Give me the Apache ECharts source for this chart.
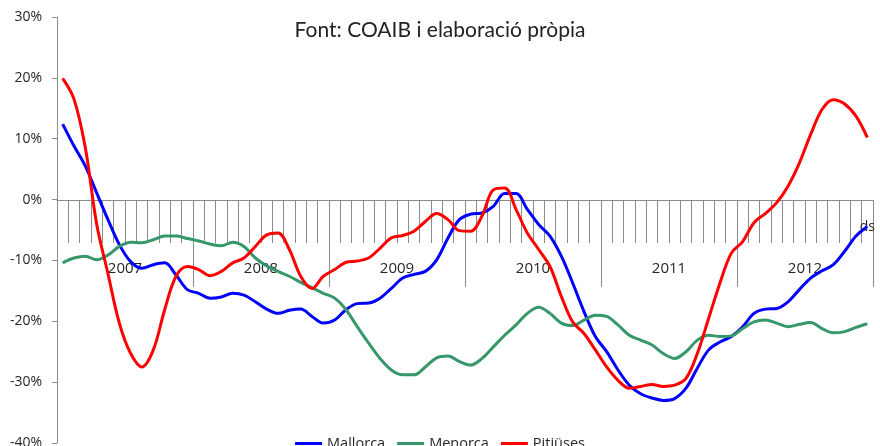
<!DOCTYPE html>
<html>
<head>
<meta charset="utf-8">
<script src="https://cdn.jsdelivr.net/npm/echarts@6/dist/echarts.min.js"></script>
<style>
  html, body { margin: 0; padding: 0; background: #fff; }
  #chart { width: 880px; height: 446px; }
</style>
</head>
<body>
<div id="chart"></div>
<script>
var monthNames = ["gn", "fb", "mç", "ab", "mg", "jn", "jl", "ag", "st", "oc", "nv", "ds"];
var years = ["2007", "2008", "2009", "2010", "2011", "2012"];

var mallorca = [
  12.4, 8.8, 5.5, 1.1, -3.3, -7.4, -10.2, -11.3, -10.7, -10.4, -12.4, -14.8,
  -15.4, -16.2, -16.0, -15.4, -15.7, -16.8, -18.0, -18.7, -18.2, -18.0, -19.2, -20.3,
  -19.8, -18.1, -17.1, -17.0, -16.2, -14.6, -12.9, -12.3, -11.8, -9.9, -6.3, -3.3,
  -2.4, -2.2, -1.1, 1.0, 1.0, -1.6, -4.1, -6.0, -9.3, -13.7, -18.4, -22.5,
  -25.0, -28.0, -30.5, -31.9, -32.6, -33.0, -32.7, -31.0, -27.7, -24.7, -23.4, -22.5,
  -20.9, -18.7, -18.0, -17.9, -16.8, -14.8, -12.9, -11.7, -10.7, -8.5, -6.0, -4.4
];
var menorca = [
  -10.4, -9.6, -9.3, -9.9, -9.1, -7.7, -7.0, -7.1, -6.6, -6.0, -6.0, -6.4,
  -6.8, -7.3, -7.6, -7.0, -7.7, -9.6, -10.9, -11.8, -12.6, -13.6, -14.5, -15.4,
  -16.2, -18.1, -20.9, -23.6, -26.1, -28.0, -28.8, -28.8, -27.5, -26.0, -25.7, -26.6,
  -27.2, -26.1, -24.2, -22.3, -20.6, -18.7, -17.7, -18.7, -20.3, -20.7, -19.8, -19.0,
  -19.2, -20.6, -22.3, -23.1, -23.9, -25.3, -26.1, -25.0, -23.1, -22.3, -22.5, -22.4,
  -21.2, -20.1, -19.8, -20.3, -20.9, -20.5, -20.2, -21.2, -21.9, -21.7, -21.0, -20.4
];
var pitiuses = [
  19.9, 16.5, 8.5, -4.0, -12.2, -20.3, -25.3, -27.5, -24.7, -18.1, -12.6, -11.0,
  -11.5, -12.5, -11.8, -10.4, -9.6, -7.7, -5.8, -5.5, -8.2, -12.6, -14.6, -12.6,
  -11.5, -10.3, -10.1, -9.6, -8.0, -6.3, -5.9, -5.2, -3.6, -2.3, -3.3, -5.1,
  -5.2, -2.7, 1.6, 1.9, -1.6, -5.5, -8.2, -11.0, -15.9, -20.1, -22.0, -24.7,
  -27.5, -29.7, -31.0, -30.7, -30.4, -30.7, -30.5, -29.4, -25.3, -19.5, -13.7, -8.8,
  -6.9, -3.8, -2.3, -0.5, 2.2, 6.0, 10.7, 14.8, 16.4, 15.7, 13.7, 10.2
];

// categories mensuals
var months = [];
years.forEach(function (y) {
  monthNames.forEach(function (m) {
    months.push(m);
  });
});

var axisGray = "#8c8c8c";
var textColor = "#262626";

var chart = echarts.init(document.getElementById("chart"));
var option = {
  animation: false,
  title: {
    text: "Font: COAIB i elaboració pròpia",
    left: "center",
    top: 15,
    textStyle: {
      fontFamily: "Lato",
      fontWeight: "normal",
      fontSize: 21,
      color: "#222",
    },
  },
  legend: {
    data: ["Mallorca", "Menorca", "Pitiüses"],
    left: "center",
    top: 431,
    icon: "rect",
    itemWidth: 27,
    itemHeight: 3,
    itemGap: 12,
    textStyle: { fontFamily: "Open Sans", fontSize: 14.5, color: textColor },
  },
  // grid 0: dades; grid 1: només l'eix de categories sobre el 0%
  grid: [
    { left: 57, right: 7, top: 17, bottom: 3, outerBoundsMode: "none" },
    { left: 57, right: 7, top: 17, bottom: 246, outerBoundsMode: "none" },
  ],
  xAxis: [
    {
      type: "category",
      gridIndex: 0,
      data: months,
      boundaryGap: true,
      show: false,
    },
    {
      type: "category",
      gridIndex: 1,
      position: "bottom",
      data: months,
      boundaryGap: true,
      axisLine: { show: true, onZero: false, lineStyle: { color: axisGray, width: 1 } },
      axisTick: { show: true, length: 43, interval: 0, lineStyle: { color: axisGray, width: 1 } },
      axisLabel: {
        interval: function (i) { return i === months.length - 1; },
        margin: 20,
        fontFamily: "Open Sans",
        fontSize: 14,
        color: textColor,
      },
      splitLine: { show: false },
    },
    {
      type: "category",
      gridIndex: 1,
      position: "bottom",
      data: years,
      boundaryGap: true,
      axisLine: { show: false, onZero: false },
      axisTick: { show: true, length: 87, interval: 0, lineStyle: { color: axisGray, width: 1 } },
      axisLabel: {
        interval: 0,
        margin: 61,
        fontFamily: "Open Sans",
        fontSize: 15,
        color: textColor,
      },
      splitLine: { show: false },
    },
  ],
  yAxis: [
    {
      type: "value",
      gridIndex: 0,
      min: -40,
      max: 30,
      interval: 10,
      axisLine: { show: true, lineStyle: { color: axisGray } },
      axisTick: { show: true, length: 5, lineStyle: { color: axisGray } },
      axisLabel: {
        formatter: "{value}%",
        margin: 15,
        fontFamily: "Open Sans",
        fontSize: 14,
        color: textColor,
      },
      splitLine: { show: false },
    },
    {
      type: "value",
      gridIndex: 1,
      min: 0,
      max: 30,
      show: false,
      splitLine: { show: false },
    },
  ],
  series: [
    {
      name: "Mallorca",
      type: "line",
      data: mallorca,
      smooth: 0.35,
      symbol: "none",
      z: 5,
      lineStyle: { color: "#0000ff", width: 3 },
      itemStyle: { color: "#0000ff" },
    },
    {
      name: "Menorca",
      type: "line",
      data: menorca,
      smooth: 0.35,
      symbol: "none",
      z: 5,
      lineStyle: { color: "#36976a", width: 3 },
      itemStyle: { color: "#36976a" },
    },
    {
      name: "Pitiüses",
      type: "line",
      data: pitiuses,
      smooth: 0.35,
      symbol: "none",
      z: 5,
      lineStyle: { color: "#ff0000", width: 3 },
      itemStyle: { color: "#ff0000" },
    },
  ],
};
chart.setOption(option);
</script>
</body>
</html>
